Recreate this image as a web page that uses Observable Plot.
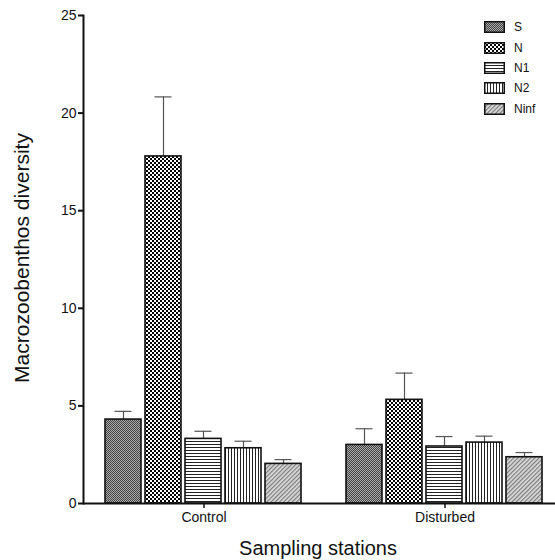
<!DOCTYPE html>
<html>
<head>
<meta charset="utf-8">
<script src="https://cdn.jsdelivr.net/npm/d3@7"></script>
<script src="https://cdn.jsdelivr.net/npm/@observablehq/plot@0.6"></script>
<style>
  html, body { margin: 0; padding: 0; background: #fff; }
  #wrap { position: relative; width: 555px; height: 560px; overflow: hidden; font-family: "Liberation Sans", Arial, sans-serif; }
  #chart { position: absolute; left: 0; top: 0; }
  .ylab { position: absolute; left: 22px; top: 258px; transform: translate(-50%, -50%) rotate(-90deg); white-space: nowrap; font-size: 21px; color: #111; }
  .xlab { position: absolute; left: 318px; top: 548px; transform: translate(-50%, -50%); white-space: nowrap; font-size: 20px; color: #111; }
  #legend { position: absolute; left: 484px; top: 17px; font-size: 12px; color: #111; }
  .lrow { height: 20.4px; display: flex; align-items: center; }
  .lrow svg { margin-right: 9px; display: block; }
</style>
</head>
<body>
<svg width="0" height="0" style="position:absolute">
  <defs>
    <pattern id="pat-S" width="2" height="2" patternUnits="userSpaceOnUse">
      <rect width="2" height="2" fill="#aaaaaa"/>
      <rect width="1" height="1" fill="#444"/>
      <rect x="1" y="1" width="1" height="1" fill="#444"/>
    </pattern>
    <pattern id="pat-N" width="4" height="4" patternUnits="userSpaceOnUse">
      <rect width="4" height="4" fill="#fff"/>
      <rect width="2" height="2" fill="#000"/>
      <rect x="2" y="2" width="2" height="2" fill="#000"/>
    </pattern>
    <pattern id="pat-N1" width="3" height="3" patternUnits="userSpaceOnUse">
      <rect width="3" height="3" fill="#fff"/>
      <rect width="3" height="1" fill="#222"/>
    </pattern>
    <pattern id="pat-N2" width="3" height="3" patternUnits="userSpaceOnUse">
      <rect width="3" height="3" fill="#fff"/>
      <rect width="1" height="3" fill="#222"/>
    </pattern>
    <pattern id="pat-Ninf" width="3" height="3" patternUnits="userSpaceOnUse" patternTransform="rotate(45)">
      <rect width="3" height="3" fill="#dcdcdc"/>
      <rect width="1.2" height="3" fill="#7a7a7a"/>
    </pattern>
  </defs>
</svg>
<div id="wrap">
  <div id="chart"></div>
  <div class="ylab">Macrozoobenthos diversity</div>
  <div class="xlab">Sampling stations</div>
  <div id="legend"></div>
</div>
<script>
// ---- data ----
const groups = ["Control", "Disturbed"];
const series = ["S", "N", "N1", "N2", "Ninf"];
const controlMean = [4.30, 17.78, 3.31, 2.83, 2.03];
const controlErr = [0.42, 3.05, 0.39, 0.36, 0.22];
const disturbedMean = [3.00, 5.31, 2.92, 3.12, 2.37];
const disturbedErr = [0.83, 1.37, 0.51, 0.33, 0.24];
const yTicks = [0, 5, 10, 15, 20, 25];

const rows = [];
series.forEach((s, i) => {
  rows.push({group: groups[0], series: s, mean: controlMean[i], err: controlErr[i]});
});
series.forEach((s, i) => {
  rows.push({group: groups[1], series: s, mean: disturbedMean[i], err: disturbedErr[i]});
});

const pat = d => `url(#pat-${d.series})`;

const chart = Plot.plot({
  width: 555,
  height: 560,
  marginLeft: 83,
  marginRight: -10,
  marginTop: 15,
  marginBottom: 57,
  style: {fontFamily: "Liberation Sans, Arial, sans-serif", fontSize: "14px", color: "#111", overflow: "visible"},
  fx: {domain: groups, padding: 0},
  x: {domain: series, axis: null, paddingInner: 0.09, paddingOuter: 0.5},
  y: {domain: [0, 25], axis: null},
  color: {type: "identity"},
  marks: [
    Plot.ruleX(rows, {fx: "group", x: "series", y1: "mean", y2: d => d.mean + d.err, stroke: "#555", strokeWidth: 1.2}),
    Plot.tickY(rows, {fx: "group", x: "series", y: d => d.mean + d.err, stroke: "#555", strokeWidth: 1.2, inset: 9.5}),
    Plot.barY(rows, {fx: "group", x: "series", y: "mean", fill: pat, stroke: "#111", strokeWidth: 1.6}),
    Plot.ruleY([0], {stroke: "#111", strokeWidth: 2}),
    Plot.frame({anchor: "left", stroke: "#111", strokeWidth: 2, facetAnchor: "left"}),
    Plot.axisY({ticks: yTicks, tickSize: 5, tickPadding: 2, strokeWidth: 2, fontSize: 14, label: null}),
    Plot.axisFx({anchor: "bottom", tickSize: 5, tickPadding: 4, strokeWidth: 1.5, fontSize: 14, label: null})
  ]
});
document.getElementById("chart").appendChild(chart);

// legend
const legend = d3.select("#legend");
series.forEach(s => {
  const row = legend.append("div").attr("class", "lrow");
  const sv = row.append("svg").attr("width", 21).attr("height", 12);
  sv.append("rect").attr("x", 0.75).attr("y", 0.75).attr("width", 19.5).attr("height", 10.5)
    .attr("fill", `url(#pat-${s})`).attr("stroke", "#111").attr("stroke-width", 1.5);
  row.append("span").text(s);
});
</script>
</body>
</html>
